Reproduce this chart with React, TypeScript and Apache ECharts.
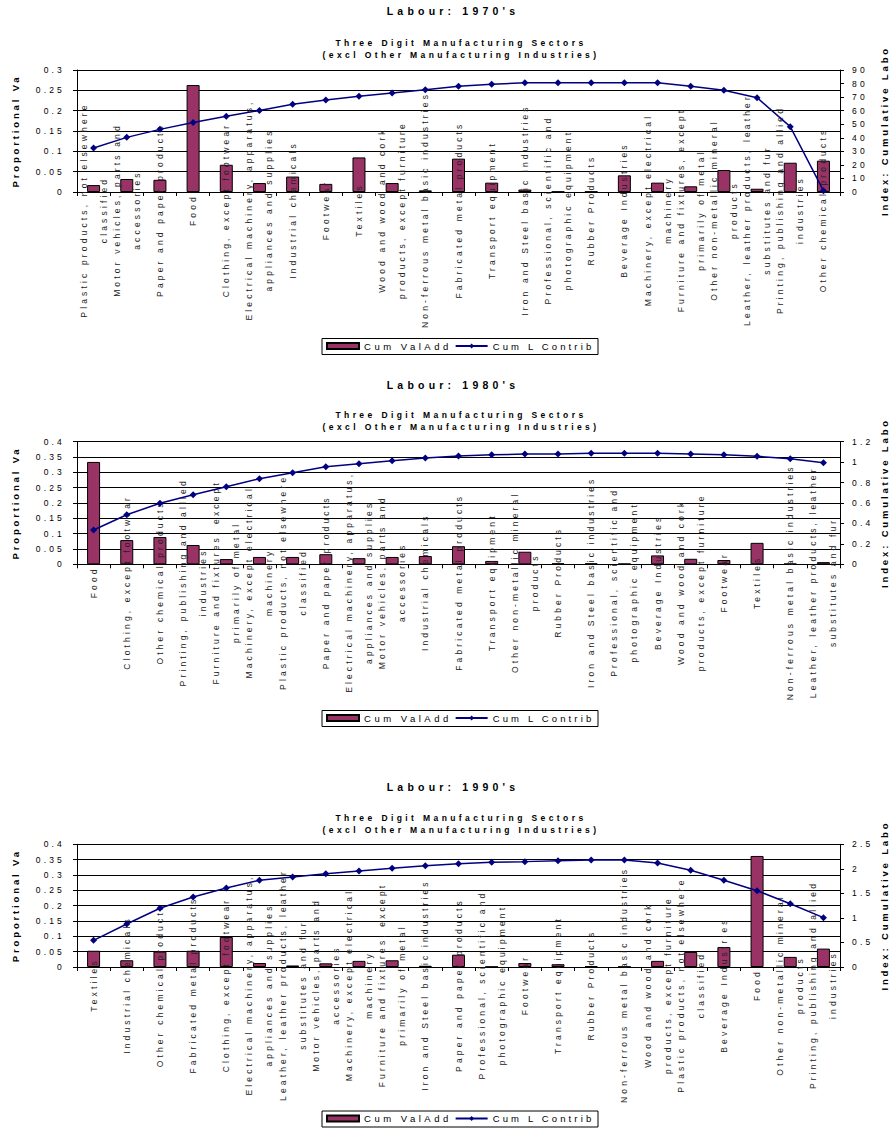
import React, { useEffect, useRef } from "react";
import * as echarts from "echarts";

// ---------- DATA ----------
const titles = ["Labour: 1970's", "Labour: 1980's", "Labour: 1990's"];
const subtitle1 = "Three Digit Manufacturing Sectors";
const subtitle2 = "(excl Other Manufacturing Industries)";
const leftAxisName = "Proportional Va";
const rightAxisName = "Index: Cumulative Labo";
const barSeriesName = "Cum ValAdd";
const lineSeriesName = "Cum L Contrib";

const cats1970 = [
  "Plastic products, not elsewhere\nclassified",
  "Motor vehicles, parts and\naccessories",
  "Paper and paper products",
  "Food",
  "Clothing, except footwear",
  "Electrical machinery, apparatus,\nappliances and supplies",
  "Industrial chemicals",
  "Footwear",
  "Textiles",
  "Wood and wood and cork\nproducts, except furniture",
  "Non-ferrous metal basic industries",
  "Fabricated metal products",
  "Transport equipment",
  "Iron and Steel basic industries",
  "Professional, scientific and\nphotographic equipment",
  "Rubber Products",
  "Beverage Industries",
  "Machinery, except electrical\nmachinery",
  "Furniture and fixtures, except\nprimarily of metal",
  "Other non-metallic mineral\nproducts",
  "Leather, leather products, leather\nsubstitutes and fur",
  "Printing, publishing and allied\nindustries",
  "Other chemical products",
];
const valAdd1970 = [0.017, 0.032, 0.03, 0.263, 0.067, 0.022, 0.038, 0.02, 0.085, 0.022, 0.004, 0.082, 0.023, 0.006, 0.001, 0.001, 0.041, 0.023, 0.014, 0.054, 0.008, 0.072, 0.077];
const lContrib1970 = [32.5, 40.3, 46.2, 51.2, 55.8, 60.2, 64.7, 67.9, 70.6, 73.0, 75.5, 78.0, 79.4, 80.6, 80.6, 80.6, 80.6, 80.6, 78.0, 75.0, 69.6, 48.2, 1.0];

const cats1980 = [
  "Food",
  "Clothing, except footwear",
  "Other chemical products",
  "Printing, publishing and allied\nindustries",
  "Furniture and fixtures, except\nprimarily of metal",
  "Machinery, except electrical\nmachinery",
  "Plastic products, not elsewhere\nclassified",
  "Paper and paper products",
  "Electrical machinery, apparatus,\nappliances and supplies",
  "Motor vehicles, parts and\naccessories",
  "Industrial chemicals",
  "Fabricated metal products",
  "Transport equipment",
  "Other non-metallic mineral\nproducts",
  "Rubber Products",
  "Iron and Steel basic industries",
  "Professional, scientific and\nphotographic equipment",
  "Beverage Industries",
  "Wood and wood and cork\nproducts, except furniture",
  "Footwear",
  "Textiles",
  "Non-ferrous metal basic industries",
  "Leather, leather products, leather\nsubstitutes and fur",
];
const valAdd1980 = [0.334, 0.079, 0.089, 0.063, 0.017, 0.024, 0.024, 0.033, 0.02, 0.024, 0.027, 0.059, 0.011, 0.041, 0.003, 0.003, 0.002, 0.029, 0.018, 0.014, 0.07, 0.002, 0.007];
const lContrib1980 = [0.336, 0.485, 0.597, 0.681, 0.759, 0.838, 0.896, 0.955, 0.984, 1.014, 1.04, 1.06, 1.072, 1.079, 1.079, 1.086, 1.086, 1.086, 1.079, 1.072, 1.057, 1.033, 0.995];

const cats1990 = [
  "Textiles",
  "Industrial chemicals",
  "Other chemical products",
  "Fabricated metal products",
  "Clothing, except footwear",
  "Electrical machinery, apparatus,\nappliances and supplies",
  "Leather, leather products, leather\nsubstitutes and fur",
  "Motor vehicles, parts and\naccessories",
  "Machinery, except electrical\nmachinery",
  "Furniture and fixtures, except\nprimarily of metal",
  "Iron and Steel basic industries",
  "Paper and paper products",
  "Professional, scientific and\nphotographic equipment",
  "Footwear",
  "Transport equipment",
  "Rubber Products",
  "Non-ferrous metal basic industries",
  "Wood and wood and cork\nproducts, except furniture",
  "Plastic products, not elsewhere\nclassified",
  "Beverage Industries",
  "Food",
  "Other non-metallic mineral\nproducts",
  "Printing, publishing and allied\nindustries",
];
const valAdd1990 = [0.053, 0.022, 0.05, 0.053, 0.098, 0.013, 0.005, 0.012, 0.02, 0.022, 0.004, 0.04, 0.001, 0.013, 0.009, 0.003, 0.001, 0.02, 0.049, 0.065, 0.362, 0.033, 0.06];
const lContrib1990 = [0.543, 0.876, 1.196, 1.427, 1.61, 1.767, 1.834, 1.902, 1.956, 2.011, 2.065, 2.106, 2.133, 2.147, 2.167, 2.181, 2.181, 2.12, 1.97, 1.767, 1.555, 1.29, 1.005];

// axis scales (tick labels)
const leftAxisMax = [0.3, 0.4, 0.4];
const leftAxisStep = [0.05, 0.05, 0.05];
const rightAxisMax = [90, 1.2, 2.5];
const rightAxisStep = [10, 0.2, 0.5];

const categories = [cats1970, cats1980, cats1990];
const valAdds = [valAdd1970, valAdd1980, valAdd1990];
const lContribs = [lContrib1970, lContrib1980, lContrib1990];

// ---------- LAYOUT ----------
const FONT = "'Liberation Sans', Arial, sans-serif";
const PLOT_LEFT = 77;
const PLOT_RIGHT = 840;
const layout = [
  { top: 70, height: 122, titleY: 11, sub1Y: 43, sub2Y: 54.5, legendBoxY: 338.5 },
  { top: 441.7, height: 122.6, titleY: 384.5, sub1Y: 415, sub2Y: 426.7, legendBoxY: 710.5 },
  { top: 844.3, height: 122.7, titleY: 787, sub1Y: 818, sub2Y: 829.5, legendBoxY: 1111 },
];

const BAR_COLOR = "#993366";
const LINE_COLOR = "#000080";

function buildOption(): any {
  const grid = layout.map((l) => ({
    left: PLOT_LEFT,
    width: PLOT_RIGHT - PLOT_LEFT,
    top: l.top,
    height: l.height,
    containLabel: false,
    outerBoundsMode: "none",
  }));

  const xAxis = layout.map((_, i) => ({
    type: "category",
    gridIndex: i,
    data: categories[i],
    z: 3,
    axisLine: { show: true, lineStyle: { color: "#000", width: 1 } },
    axisTick: { show: true, length: 4, lineStyle: { color: "#000" } },
    axisLabel: {
      interval: 0,
      rotate: 90,
      align: "center",
      verticalAlign: "middle",
      margin: 18,
      fontSize: 8.5,
      fontFamily: FONT,
      color: "#222",
      lineHeight: 20,
      padding: [0, 0, 8, 0],
    },
    splitLine: { show: false },
  }));

  const yAxis: any[] = [];
  layout.forEach((_, i) => {
    yAxis.push({
      type: "value",
      gridIndex: i,
      position: "left",
      min: 0,
      max: leftAxisMax[i],
      interval: leftAxisStep[i],
      axisLine: { show: true, lineStyle: { color: "#000", width: 1 } },
      axisTick: { show: true, length: 4, lineStyle: { color: "#000" } },
      axisLabel: { fontSize: 8.5, fontFamily: FONT, color: "#000", margin: 12 },
      splitLine: { show: true, lineStyle: { color: "#000", width: 1 } },
    });
    yAxis.push({
      type: "value",
      gridIndex: i,
      position: "right",
      min: 0,
      max: rightAxisMax[i],
      interval: rightAxisStep[i],
      axisLine: { show: true, lineStyle: { color: "#000", width: 1 } },
      axisTick: { show: true, length: 4, lineStyle: { color: "#000" } },
      axisLabel: { fontSize: 8.5, fontFamily: FONT, color: "#000", margin: 12 },
      splitLine: { show: false },
    });
  });

  const series: any[] = [];
  layout.forEach((_, i) => {
    series.push({
      type: "bar",
      name: barSeriesName,
      xAxisIndex: i,
      yAxisIndex: 2 * i,
      data: valAdds[i],
      barWidth: 13,
      itemStyle: { color: BAR_COLOR, borderColor: "#000", borderWidth: 1 },
    });
    series.push({
      type: "line",
      name: lineSeriesName,
      xAxisIndex: i,
      yAxisIndex: 2 * i + 1,
      data: lContribs[i],
      symbol: "diamond",
      symbolSize: 7,
      showAllSymbol: true,
      lineStyle: { color: LINE_COLOR, width: 1.5 },
      itemStyle: { color: LINE_COLOR },
    });
  });

  const legend = layout.map((l) => ({
    left: 326,
    top: l.legendBoxY + 2.5,
    orient: "horizontal",
    itemWidth: 32,
    itemHeight: 6,
    itemGap: 38,
    padding: 0,
    selectedMode: false,
    z: 10,
    data: [{ name: barSeriesName, icon: "rect" }, { name: lineSeriesName }],
    textStyle: { fontSize: 9.5, fontFamily: FONT, color: "#000" },
  }));

  const elements: any[] = [];
  layout.forEach((l, i) => {
    const midY = l.top + l.height / 2;
    elements.push({
      type: "rect",
      z: 0,
      shape: { x: 322, y: l.legendBoxY, width: 276, height: 16 },
      style: { fill: "#fff", stroke: "#000", lineWidth: 1 },
    });
    elements.push({
      type: "text",
      x: 453,
      y: l.titleY,
      style: { text: titles[i], fontSize: 10.5, fontWeight: "bold", fontFamily: FONT, fill: "#000", align: "center", verticalAlign: "middle" },
    });
    elements.push({
      type: "text",
      x: 461,
      y: l.sub1Y,
      style: { text: subtitle1, fontSize: 8.5, fontWeight: "bold", fontFamily: FONT, fill: "#000", align: "center", verticalAlign: "middle" },
    });
    elements.push({
      type: "text",
      x: 461,
      y: l.sub2Y,
      style: { text: subtitle2, fontSize: 8.5, fontWeight: "bold", fontFamily: FONT, fill: "#000", align: "center", verticalAlign: "middle" },
    });
    elements.push({
      type: "text",
      x: 15.5,
      y: midY,
      rotation: Math.PI / 2,
      style: { text: leftAxisName, fontSize: 9.5, fontWeight: "bold", fontFamily: FONT, fill: "#000", align: "center", verticalAlign: "middle" },
    });
    elements.push({
      type: "text",
      x: 884,
      y: midY,
      rotation: Math.PI / 2,
      style: { text: rightAxisName, fontSize: 9.5, fontWeight: "bold", fontFamily: FONT, fill: "#000", align: "center", verticalAlign: "middle" },
    });
  });

  return {
    animation: false,
    backgroundColor: "#fff",
    grid,
    xAxis,
    yAxis,
    series,
    legend,
    graphic: { elements },
  };
}

function applySpacing(root: HTMLElement) {
  const texts = root.querySelectorAll("text");
  texts.forEach((t) => {
    const cs = getComputedStyle(t);
    const fs = parseFloat(cs.fontSize) || 9;
    const w = cs.fontWeight;
    const bold = w === "bold" || parseInt(w, 10) >= 600;
    const content = t.textContent || "";
    let f = bold ? 0.4 : 0.37;
    if (content === leftAxisName || content === rightAxisName) f = 0.3;
    if (content === lineSeriesName) f = 0.33;
    t.setAttribute("letter-spacing", (fs * f).toFixed(2));
  });
}

export default function App() {
  const ref = useRef<HTMLDivElement>(null);
  useEffect(() => {
    const el = ref.current;
    if (!el) return;
    const chart = echarts.init(el, null, { renderer: "svg" });
    chart.setOption(buildOption());
    applySpacing(el);
    const handler = () => applySpacing(el);
    chart.on("finished", handler);
    const raf = requestAnimationFrame(handler);
    return () => {
      cancelAnimationFrame(raf);
      chart.dispose();
    };
  }, []);
  return (
    <div
      ref={ref}
      style={{ position: "absolute", left: 0, top: 0, width: 892, height: 1130, background: "#fff" }}
    />
  );
}
